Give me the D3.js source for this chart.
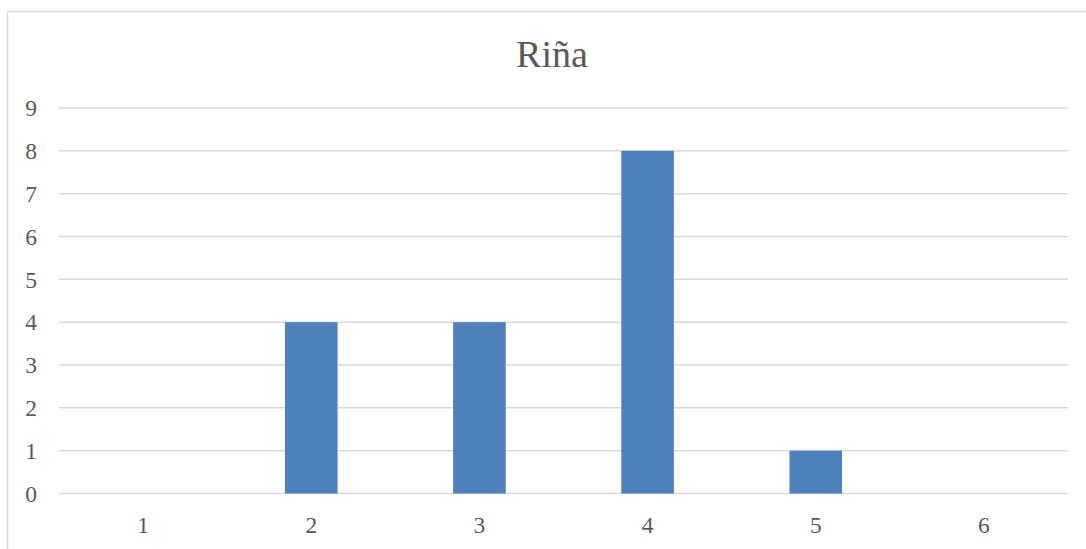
<!DOCTYPE html>
<html><head><meta charset="utf-8">
<script src="https://cdn.jsdelivr.net/npm/d3@7"></script>
<style>body{margin:0;background:#fff}svg{display:block}</style>
</head><body>
<script>
const title = "Riña";
const categories = ["1","2","3","4","5","6"];
const values = [0,4,4,8,1,0];
const yTicks = [0,1,2,3,4,5,6,7,8,9];

const W=1086,H=549;
const svg=d3.select("body").append("svg").attr("width",W).attr("height",H);
svg.append("rect").attr("x",7.5).attr("y",11.5).attr("width",W+10).attr("height",H+10)
  .attr("fill","#fff").attr("stroke","#d9d9d9").attr("stroke-width",1.5);

const x=d3.scaleBand().domain(categories).range([59,1068]).paddingInner(0.687).paddingOuter(0.3435);
const y=d3.scaleLinear().domain([0,9]).range([493.5,108]);
const font="'Liberation Serif', serif";

svg.append("g").selectAll("line").data(yTicks).join("line")
  .attr("x1",59).attr("x2",1068).attr("y1",d=>y(d)).attr("y2",d=>y(d))
  .attr("stroke","#d9d9d9").attr("stroke-width",1.5);

svg.append("g").selectAll("rect").data(values).join("rect")
  .attr("x",(d,i)=>x(categories[i])).attr("width",x.bandwidth())
  .attr("y",d=>y(d)).attr("height",d=>y(0)-y(d)).attr("fill","#4F81BD");

svg.append("g").selectAll("text").data(yTicks).join("text")
  .attr("x",37).attr("y",d=>y(d)).attr("dy","0.35em").attr("text-anchor","end")
  .attr("font-family",font).attr("font-size",23.5).attr("fill","#595959").text(d=>d);

svg.append("g").selectAll("text").data(categories).join("text")
  .attr("x",d=>x(d)+x.bandwidth()/2).attr("y",533).attr("text-anchor","middle")
  .attr("font-family",font).attr("font-size",23.5).attr("fill","#595959").text(d=>d);

svg.append("text").attr("x",552).attr("y",67).attr("text-anchor","middle")
  .attr("font-family",font).attr("font-size",38).attr("fill","#595959").text(title);
</script>
</body></html>
